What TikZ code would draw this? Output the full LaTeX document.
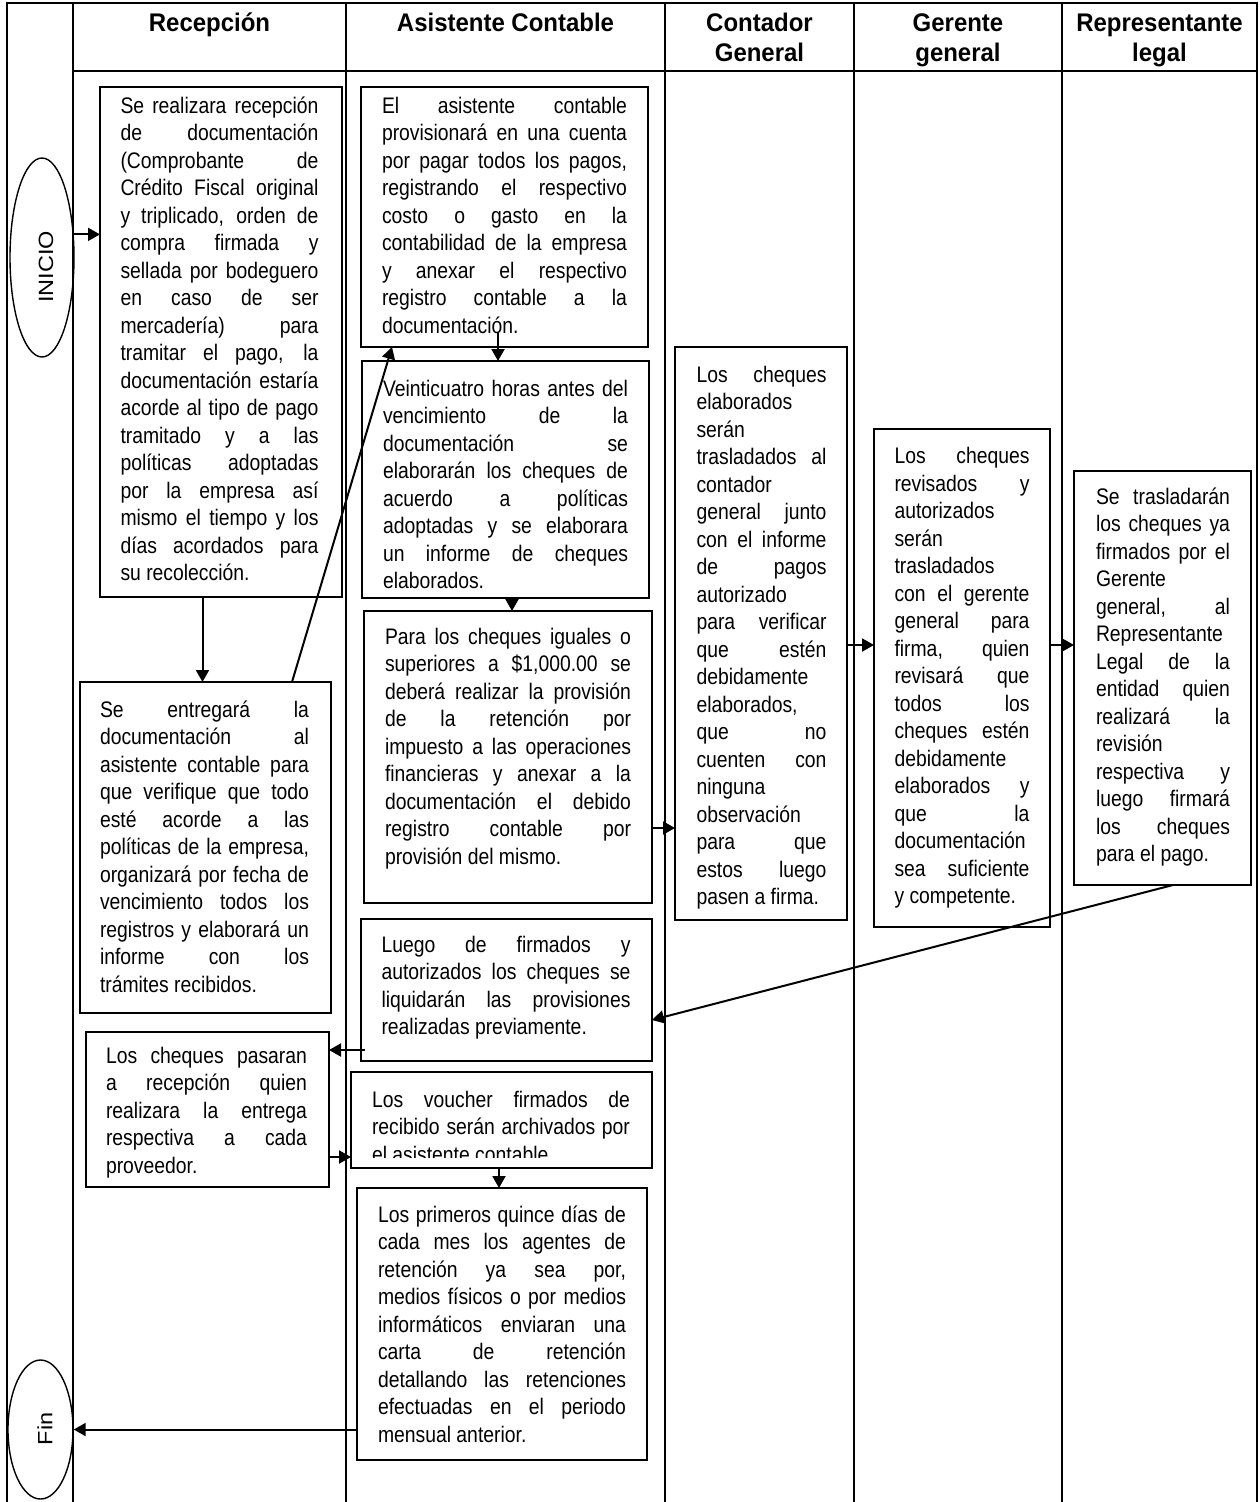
\documentclass[tikz,border=0pt]{standalone}
\usepackage{fontspec}
\setmainfont{Liberation Sans}[FakeStretch=0.86]
\newfontfamily\hdrfont{Liberation Sans}[FakeStretch=0.94]
\newfontfamily\ovalfont{Liberation Sans}
\usetikzlibrary{arrows.meta,shapes.geometric}
\newlength\lw
\newcommand\J[1]{\hbox to \lw{\strut#1}}
\newcommand\K[1]{\hbox to \lw{\strut#1\hfil}}
\begin{document}
\begin{tikzpicture}[x=1pt,y=-1pt,
  tbl/.style={line width=2pt},
  box/.style={draw,line width=1.8pt,rectangle,inner sep=0pt,outer sep=0pt,anchor=north west},
  txt/.style={inner sep=0pt,outer sep=0pt,anchor=north west,font=\fontsize{22.5pt}{27.5pt}\selectfont},
  hdr/.style={inner sep=0pt,anchor=north,align=center,font=\hdrfont\bfseries\fontsize{25.5pt}{30pt}\selectfont},
  oval/.style={draw,ellipse,line width=1.4pt,inner sep=0pt},
  ovaltxt/.style={rotate=90,inner sep=0pt,font=\ovalfont\fontsize{23.5pt}{28pt}\selectfont},
  arr/.style={line width=2pt,-{Triangle[length=12pt,width=13pt]}}
]
\useasboundingbox (0,0) rectangle (1259,1502);
% table
\draw[tbl] (6,3) -- (1258,3);
\draw[tbl] (73,71) -- (1257,71);
\foreach \x in {7,73,346,665,854,1062,1257} \draw[tbl] (\x,3) -- (\x,1502);
% headers
\node[hdr] (h1) at (209.5,10) {\strut Recepción};
\node[hdr] (h2) at (505.5,10) {\strut Asistente Contable};
\node[hdr] (h3) at (759.5,10) {\strut Contador\\\strut General};
\node[hdr] (h4) at (958,10) {\strut Gerente\\\strut general};
\node[hdr] (h5) at (1159.5,10) {\strut Representante\\\strut legal};
% ovals
\node[oval,minimum width=64pt,minimum height=199pt] (inicio) at (42,257.5) {};
\node[ovaltxt] (iniciotxt) at (46,267) {\scalebox{1}[0.88]{INICIO}};
\node[oval,minimum width=65pt,minimum height=139pt] (fin) at (40.5,1429.5) {};
\node[ovaltxt] (fintxt) at (45,1429) {\scalebox{1}[0.88]{Fin}};
% boxes
\node[box,minimum width=242pt,minimum height=510pt] (b1) at (100,87) {};
\node[box,minimum width=287pt,minimum height=260pt] (b2) at (361,87) {};
\node[box,minimum width=287pt,minimum height=237pt] (b3) at (362,361) {};
\node[box,minimum width=288pt,minimum height=292pt] (b5) at (364,611) {};
\node[box,minimum width=251pt,minimum height=331pt] (b4) at (80,682) {};
\node[box,minimum width=172pt,minimum height=573pt] (b6) at (675,347) {};
\node[box,minimum width=176pt,minimum height=498pt] (b7) at (874,429) {};
\node[box,minimum width=177pt,minimum height=414pt] (b8) at (1074,471) {};
\node[box,minimum width=291pt,minimum height=142pt] (b9) at (361,919) {};
\node[box,minimum width=243pt,minimum height=155pt] (b10) at (86,1032) {};
\node[box,minimum width=301pt,minimum height=96pt] (b11) at (351,1072) {};
\node[box,minimum width=290pt,minimum height=272pt] (b12) at (357,1188) {};
% texts
\node[txt] (t1) at (120.5,93.75) {\lw=198pt\relax\vbox{%
\J{Se realizara recepción}\J{de documentación}\J{(Comprobante de}\J{Crédito Fiscal original}%
\J{y triplicado, orden de}\J{compra firmada y}\J{sellada por bodeguero}\J{en caso de ser}%
\J{mercadería) para}\J{tramitar el pago, la}\J{documentación estaría}\J{acorde al tipo de pago}%
\J{tramitado y a las}\J{políticas adoptadas}\J{por la empresa así}\J{mismo el tiempo y los}%
\J{días acordados para}\K{su recolección.}}};
\node[txt] (t2) at (382,93.75) {\lw=245pt\relax\vbox{%
\J{El asistente contable}\J{provisionará en una cuenta}\J{por pagar todos los pagos,}%
\J{registrando el respectivo}\J{costo o gasto en la}\J{contabilidad de la empresa}%
\J{y anexar el respectivo}\J{registro contable a la}\K{documentación.}}};
\node[txt] (t3) at (383,376.75) {\lw=245pt\relax\vbox{%
\J{Veinticuatro horas antes del}\J{vencimiento de la}\J{documentación se}%
\J{elaborarán los cheques de}\J{acuerdo a políticas}\J{adoptadas y se elaborara}%
\J{un informe de cheques}\K{elaborados.}}};
\node[txt] (t5) at (385,624.75) {\lw=246pt\relax\vbox{%
\J{Para los cheques iguales o}\J{superiores a \$1,000.00 se}\J{deberá realizar la provisión}%
\J{de la retención por}\J{impuesto a las operaciones}\J{financieras y anexar a la}%
\J{documentación el debido}\J{registro contable por}\K{provisión del mismo.}}};
\node[txt] (t4) at (100,697.75) {\lw=209pt\relax\vbox{%
\J{Se entregará la}\J{documentación al}\J{asistente contable para}\J{que verifique que todo}%
\J{esté acorde a las}\J{políticas de la empresa,}\J{organizará por fecha de}%
\J{vencimiento todos los}\J{registros y elaborará un}\J{informe con los}\K{trámites recibidos.}}};
\node[txt] (t6) at (696.5,362.75) {\lw=130pt\relax\vbox{%
\J{Los cheques}\K{elaborados}\K{serán}\J{trasladados al}\K{contador}\J{general junto}%
\J{con el informe}\J{de pagos}\K{autorizado}\J{para verificar}\J{que estén}\K{debidamente}%
\K{elaborados,}\J{que no}\J{cuenten con}\K{ninguna}\K{observación}\J{para que}%
\J{estos luego}\K{pasen a firma.}}};
\node[txt] (t7) at (894.5,444.25) {\lw=135pt\relax\vbox{%
\J{Los cheques}\J{revisados y}\K{autorizados}\K{serán}\K{trasladados}\J{con el gerente}%
\J{general para}\J{firma, quien}\J{revisará que}\J{todos los}\J{cheques estén}%
\K{debidamente}\J{elaborados y}\J{que la}\K{documentación}\J{sea suficiente}\K{y competente.}}};
\node[txt] (t8) at (1096,484.75) {\lw=134pt\relax\vbox{%
\J{Se trasladarán}\J{los cheques ya}\J{firmados por el}\K{Gerente}\J{general, al}%
\K{Representante}\J{Legal de la}\J{entidad quien}\J{realizará la}\K{revisión}%
\J{respectiva y}\J{luego firmará}\J{los cheques}\K{para el pago.}}};
\node[txt] (t9) at (381.5,932.75) {\lw=249pt\relax\vbox{%
\J{Luego de firmados y}\J{autorizados los cheques se}\J{liquidarán las provisiones}%
\K{realizadas previamente.}}};
\node[txt] (t10) at (106,1043.75) {\lw=201pt\relax\vbox{%
\J{Los cheques pasaran}\J{a recepción quien}\J{realizara la entrega}\J{respectiva a cada}%
\K{proveedor.}}};
\begin{scope}
\clip (b11.north west) rectangle ([yshift=11pt]b11.south east);
\node[txt] (t11) at (372,1087.75) {\lw=258pt\relax\vbox{%
\J{Los voucher firmados de}\J{recibido serán archivados por}\K{el asistente contable}}};
\end{scope}
\node[txt] (t12) at (378,1202.75) {\lw=248pt\relax\vbox{%
\J{Los primeros quince días de}\J{cada mes los agentes de}\J{retención ya sea por,}%
\J{medios físicos o por medios}\J{informáticos enviaran una}\J{carta de retención}%
\J{detallando las retenciones}\J{efectuadas en el periodo}\K{mensual anterior.}}};
% connectors
\draw[arr] (inicio.36) -- (inicio.36 -| b1.west);
\draw[arr] ([xshift=-3pt]b4.north |- b1.south) -- ([xshift=-3pt]b4.north);
\draw[arr] ([xshift=-39pt]b4.north east) -- ([xshift=31pt]b2.south west);
\draw[arr] ([xshift=-6.5pt,yshift=14pt]b2.south) -- ([xshift=-6.5pt]b2.south |- b3.north);
\draw[arr] ([xshift=6.5pt]b3.south) -- ([xshift=6.5pt]b3.south |- b5.north);
\draw[arr] ([yshift=-71pt]b5.east) -- ([yshift=-71pt]b5.east -| b6.west);
\draw[arr] ([yshift=-11.5pt]b6.east) -- ([yshift=-11.5pt]b6.east -| b7.west);
\draw[arr] ([yshift=33pt]b7.east) -- ([yshift=33pt]b7.east -| b8.west);
\draw[arr] ([xshift=10.5pt]b8.south) -- ([yshift=-30pt]b9.east);
\draw[arr] ([xshift=4pt,yshift=-60pt]b9.west) -- ([yshift=-60pt]b9.west -| b10.east);
\draw[arr] ([yshift=-47.5pt]b10.east) -- ([yshift=-47.5pt]b10.east -| b11.west);
\draw[arr] ([xshift=-2.5pt]b11.south) -- ([xshift=-2.5pt]b11.south |- b12.north);
\draw[arr] (b12.west |- fin.east) -- (fin.east);
\end{tikzpicture}
\end{document}
